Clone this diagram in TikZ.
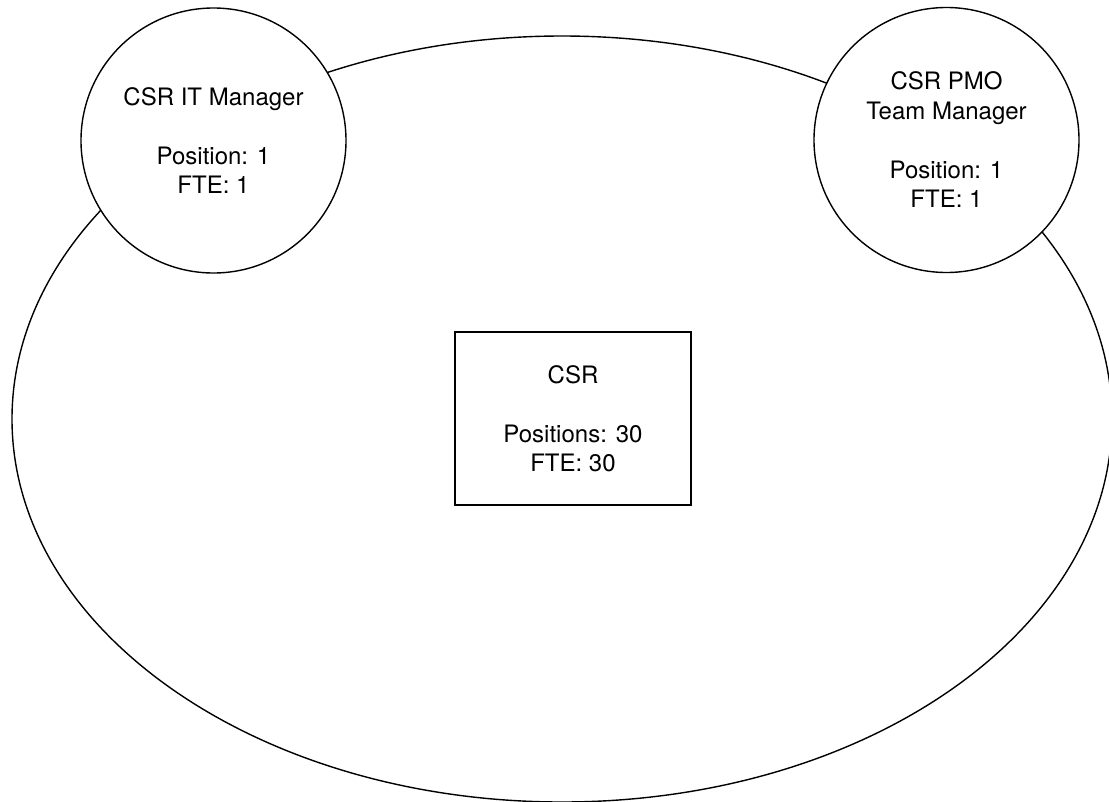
\documentclass[tikz,border=0pt]{standalone}
\usepackage{fontspec}
\setmainfont{TeX Gyre Heros}
\usetikzlibrary{shapes.geometric}
\begin{document}
\begin{tikzpicture}[x=1pt,y=-1pt,
  lbl/.style={font=\fontsize{24}{29.5}\selectfont, align=center, text=black},
  rolecircle/.style={lbl, circle, draw, fill=white, line width=1.4pt, minimum size=265pt, inner sep=0pt},
  unitbox/.style={lbl, rectangle, draw, line width=1.6pt, minimum width=236pt, minimum height=173pt, inner sep=0pt},
  groupellipse/.style={ellipse, draw, line width=1.4pt, minimum width=1100pt, minimum height=766pt, inner sep=0pt}]
\useasboundingbox (0,0) rectangle (1109,801);
\clip (0,0) rectangle (1109,801);
\node[groupellipse] (team) at (562,419) {};
\node[unitbox] (csr) at (573,418.5) {CSR\\[29.5pt]Positions: 30\\FTE: 30};
\node[rolecircle] (itm) at (213.5,140.5) {CSR IT Manager\\[29.5pt]Position: 1\\FTE: 1};
\node[rolecircle] (pmo) at (946.5,140) {CSR PMO\\Team Manager\\[29.5pt]Position: 1\\FTE: 1};
\end{tikzpicture}
\end{document}
